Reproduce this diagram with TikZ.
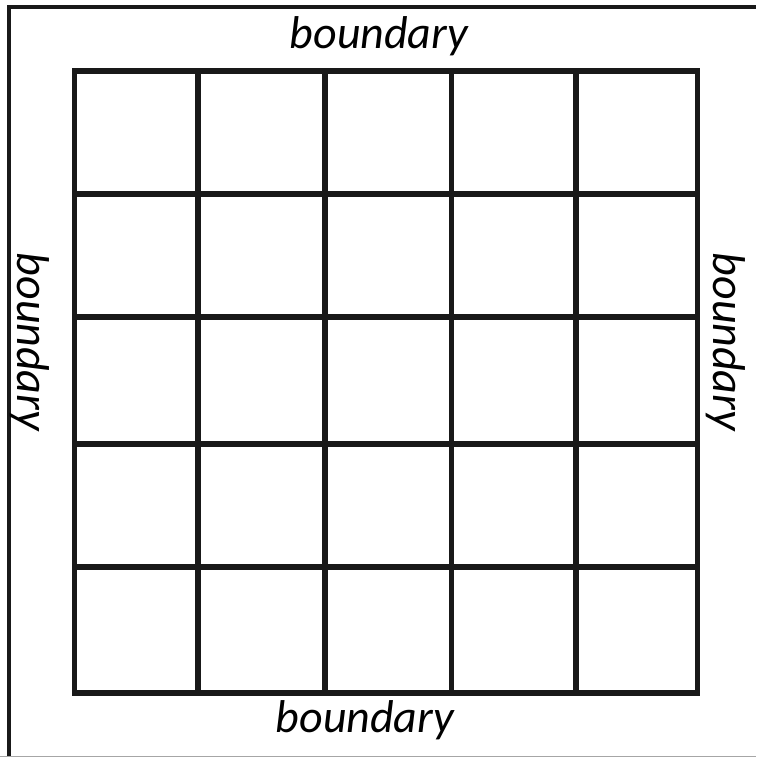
\documentclass[tikz,border=0pt]{standalone}
\usepackage{fontspec}
\setmainfont{Carlito}
\begin{document}
\begin{tikzpicture}[x=1pt,y=-1pt,
  gridline/.style={line width=5.5pt, draw=black!90, line cap=rect},
  frame/.style={line width=4pt, draw=black!90},
  lbl/.style={font=\fontsize{46}{52}\selectfont\itshape, inner sep=0pt}]
\useasboundingbox (0,0) rectangle (756,757);
\coordinate (fl) at (9,757);
\coordinate (tl) at (9,7);
\coordinate (tr) at (756,7);
\draw[frame] (fl) -- (tl) -- (tr);
\draw[line width=1pt, draw=black!35] (0,756.5) -- (756,756.5);
\foreach \x in {74.5,198,325,451.5,576,697.5}
  \draw[gridline] (\x,71) -- (\x,693);
\foreach \y in {71,194,317,444,567,693}
  \draw[gridline] (74.5,\y) -- (697.5,\y);
\node[lbl] (top) at (379,36) {boundary};
\node[lbl] (bot) at (365,720) {boundary};
\node[lbl, rotate=-90] (left) at (30,342) {boundary};
\node[lbl, rotate=-90] (right) at (726,342) {boundary};
\end{tikzpicture}
\end{document}
